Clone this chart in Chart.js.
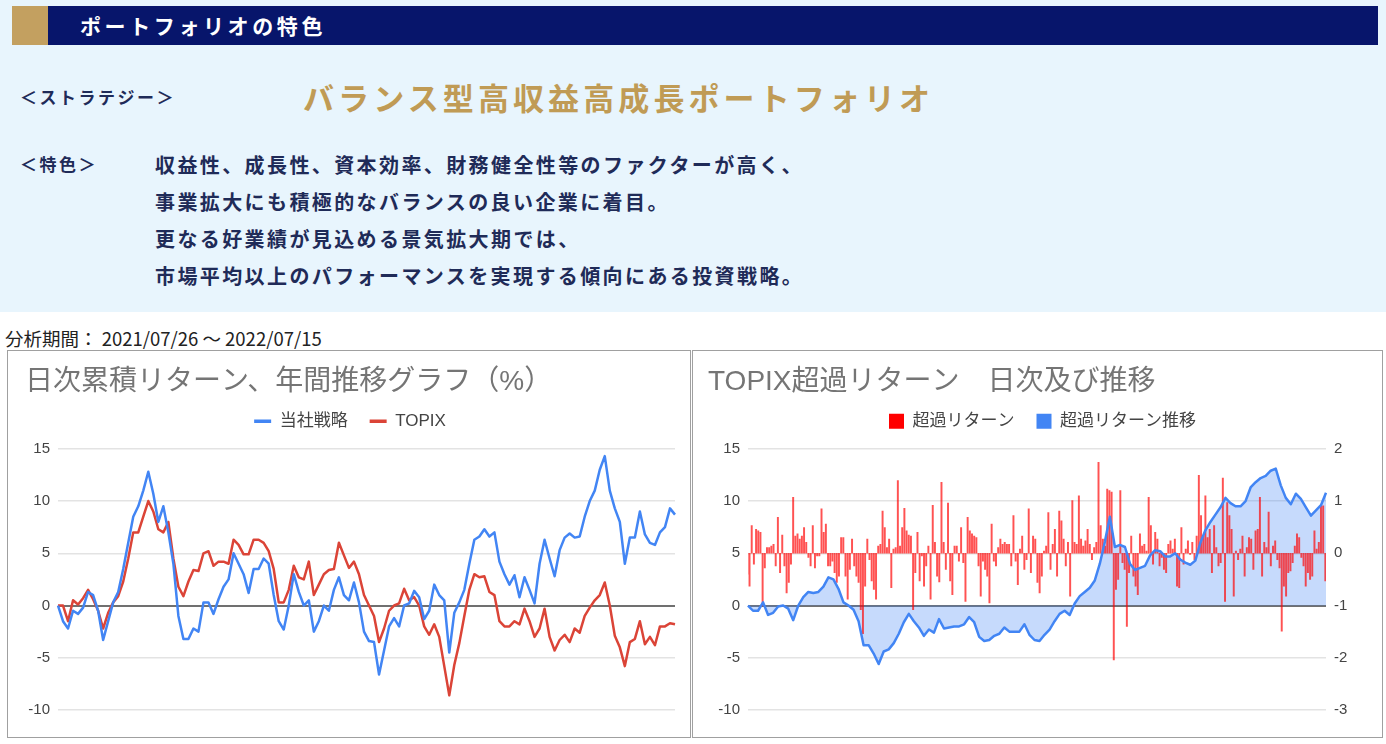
<!DOCTYPE html>
<html lang="ja">
<head>
<meta charset="utf-8">
<title>ポートフォリオの特色</title>
<script src="https://cdn.jsdelivr.net/npm/chart.js@4.4.1/dist/chart.umd.min.js"></script>
<style>
html,body{margin:0;padding:0;background:#fff}
body{width:1386px;height:744px;position:relative;overflow:hidden;font-family:"Noto Sans CJK JP","Noto Sans",sans-serif}
.abs{position:absolute;white-space:nowrap}
#panel{left:0;top:0;width:1386px;height:312px;background:#e8f5fd}
#hdr{left:12px;top:6px;width:1366px;height:39px;background:#07156b}
#gold{left:0;top:0;width:36px;height:39px;background:#c3a060}
#hdrtxt{left:68px;top:0;line-height:39px;font-size:21px;font-weight:700;color:#fff;letter-spacing:3.6px}
.lbl{color:#1f2b58;font-weight:700;font-size:17px;letter-spacing:2.5px;line-height:30px}
#strat{left:20px;top:82px}
#name{left:303px;top:77px;line-height:40px;font-size:31px;font-weight:700;color:#c09b55;letter-spacing:4.1px}
#feat{left:20px;top:149px}
#body{left:155px;top:145.5px;line-height:37px;font-size:20px;font-weight:700;color:#1f2b58;letter-spacing:2.4px}
#period{left:5px;top:326px;line-height:24px;font-size:18.5px;color:#222}
.box{position:absolute;top:350px;height:388px;box-sizing:border-box;border:1px solid #a0a0a0;background:#fff}
#box1{left:7px;width:684px}
#box2{left:692px;width:691px}
canvas{display:block}
</style>
</head>
<body>
<div id="panel" class="abs"></div>
<div id="hdr" class="abs"><div id="gold" class="abs"></div><div id="hdrtxt" class="abs">ポートフォリオの特色</div></div>
<div id="strat" class="abs lbl">＜ストラテジー＞</div>
<div id="name" class="abs">バランス型高収益高成長ポートフォリオ</div>
<div id="feat" class="abs lbl">＜特色＞</div>
<div id="body" class="abs">収益性、成長性、資本効率、財務健全性等のファクターが高く、<br>事業拡大にも積極的なバランスの良い企業に着目。<br>更なる好業績が見込める景気拡大期では、<br>市場平均以上のパフォーマンスを実現する傾向にある投資戦略。</div>
<div id="period" class="abs">分析期間： 2021/07/26 ～ 2022/07/15</div>
<div id="box1" class="box"><canvas id="c1" width="682" height="386"></canvas></div>
<div id="box2" class="box"><canvas id="c2" width="689" height="386"></canvas></div>
<script>
// ---- data ----
const seriesNames = ['当社戦略', 'TOPIX'];
const excessNames = ['超過リターン', '超過リターン推移'];
const chartTitles = ['日次累積リターン、年間推移グラフ（%）', 'TOPIX超過リターン　日次及び推移'];

// cumulative return (%), strategy
const strategy = [0, -1.5, -2.2, -0.5, -0.8, -0.2, 1.3, 1, -0.5, -3.3,
 -1.5, 0.3, 1.3, 3.5, 6, 8.5, 9.5, 11, 12.8, 10.7,
 8, 9.5, 7, 4, -1, -3.2, -3.2, -2.2, -2.5, 0.3,
 0.3, -0.8, 0.6, 1.8, 2.5, 5, 4, 3, 1.2, 3.5,
 3.5, 4.5, 4, 1, -1.5, -2.3, 0, 3, 1.3, 0,
 0.5, -2.5, -1.5, 0, -0.5, 1.5, 2.7, 1, 0.5, 2.2,
 0.3, -2.5, -3.4, -3.5, -6.6, -4.3, -2, -1.2, -2, 0,
 0.2, 1.4, 0.8, -1.3, -0.5, 2, 1, 0.5, -4.5, -0.7,
 0.3, 1.5, 4, 6.3, 6.6, 7.3, 6.6, 7, 4.2, 3,
 2, 2.9, 0.8, 2.7, 1.5, 0.2, 4, 6.3, 4.5, 2.8,
 5.3, 6.5, 6.9, 6.5, 6.6, 8.5, 10, 11, 13, 14.3,
 11, 9.3, 8, 4, 6.5, 6.5, 9, 6.8, 6, 5.8,
 7, 7.5, 9.3, 8.7];

// cumulative return (%), TOPIX
const topix = [0, 0, -1.5, 0.5, 0.1, 0.7, 1.5, 0.6, -0.5, -2.2,
 -0.7, 0.3, 0.9, 2.3, 4.5, 7, 7, 8.5, 10, 9,
 7.3, 7, 8, 4.5, 1.8, 0.9, 2.3, 3.4, 3.3, 5,
 5.2, 3.8, 4.2, 4.2, 4, 6.3, 5.8, 4.9, 4.9, 6.3,
 6.3, 6, 5.2, 3.5, 0.3, 0.3, 1.5, 3.8, 2.7, 2.5,
 4.2, 1, 2, 3, 3.4, 3.5, 6, 4.8, 3.6, 4.2,
 3, 1, 0, -1, -3.5, -2.2, -0.5, 0, 0.2, 1.6,
 0.5, 0.8, 0, -2, -2.8, -1.8, -3, -5.8, -8.6, -5.7,
 -3.6, -1, 1.5, 3, 2.7, 2.8, 1.3, 1, -1.5, -2,
 -2, -1.5, -1.8, -0.3, -1.5, -3, -2.2, -0.3, -3, -4.3,
 -3.3, -2.8, -3.5, -2.2, -2.6, -1, -0.2, 0.5, 1, 2.2,
 0, -2.9, -4, -5.8, -3.5, -3.2, -1.5, -3.7, -3, -3.8,
 -2, -2, -1.7, -1.8];

// cumulative excess return vs TOPIX (%), left axis
const excessCum = [0, -0.5, -0.5, 0.3, -0.9, -0.7, -0.1, 0, -0.3, -1.4,
 0, 0.8, 1.3, 1.2, 1.3, 1.8, 2.7, 2.5, 1.6, 0.3,
 0, -0.4, -1.5, -3.8, -3.8, -4.6, -5.6, -4.4, -4.2, -3.6,
 -2.7, -1.6, -0.8, -1.5, -2.1, -2.9, -2.3, -2.6, -1.3, -2.2,
 -2.1, -2, -2, -1.8, -1.1, -1.6, -3, -3.4, -3.3, -2.9,
 -2.7, -2.1, -2.5, -2.5, -2.5, -1.8, -2.8, -3.3, -3.4, -2.8,
 -2.3, -1.5, -0.8, -0.5, -0.9, 0.2, 0.9, 1.3, 1.7, 2.4,
 4, 6.1, 8.5, 5.6, 5.8, 5.6, 4, 3.4, 3.6, 3.8,
 4.8, 5.3, 5.2, 4.7, 4.7, 5, 4.4, 4.1, 3.9, 4.3,
 6, 7.2, 8, 8.7, 9.4, 10.3, 9.8, 9.5, 9.5, 10,
 11.3, 11.8, 12.2, 12.4, 12.9, 13.1, 11.5, 10.3, 9.7, 10.7,
 10.2, 9.4, 8.6, 9.1, 9.6, 10.8];

// daily excess return (%), right axis
const excessDaily = [-0.40, -0.63, 0.53, -0.21, 0.46, 0.43, 0.40, -1.01, -0.28, 0.11,
 0.11, 0.14, 0.17, -0.24, 0.69, -0.37, 0.35, -0.24, -0.76, -0.56,
 -0.21, 1.07, 0.33, 0.37, 0.27, 0.33, 0.49, 0.21, -0.08, -0.24,
 0.53, -0.28, -0.05, -0.05, 0.85, 0.40, 0.56, -0.24, -0.24, -0.15,
 -0.37, -0.56, -0.44, 0.30, 0.30, -0.44, -0.88, -0.31, 0.27, -0.24,
 -0.44, -0.56, -1.08, -1.54, -0.63, 0.27, -0.12, -0.53, -0.69, -0.88,
 0.14, 0.17, 0.81, 0.49, 0.11, 0.27, -0.66, 0.08, 0.11, 1.39,
 0.14, 0.49, 0.86, 0.43, 0.35, 0.33, -1.08, -0.37, 0.40, -0.53,
 -0.05, -0.63, -0.24, 0.14, -0.88, 0.92, 0.21, -0.44, -0.55, 1.36,
 0.21, -0.31, 0.96, -0.53, -0.79, 0.14, 0.14, -0.15, 0.49, -0.18,
 -0.92, 0.69, 0.43, 0.37, 0.33, 0.30, -0.24, -0.82, -0.15, -0.31,
 -0.44, -0.95, 0.56, -0.15, -0.24, 0.11, 0.27, 0.17, 0.21, 0.17,
 0.17, -0.24, 0.72, -0.15, -0.60, 0.08, 0.33, -0.31, -0.12, 0.85,
 -0.37, 0.33, 0.27, -0.56, -0.76, -0.44, 0.04,
 0.14, 0.78, -0.31, 0.17, 0.46, -0.44, 0.81, 0.62, 0.27, -0.24,
 0.21, -0.82, 1.01, 0.21, 0.17, 1.10, 0.27, 0.14, 0.24, 0.46,
 0.17, -0.12, 0.11, 0.21, 1.74, 0.53, 0.27, 0.14, 1.23, 1.20,
 1.17, -2.04, -0.69, -0.50, 1.20, -0.18, -0.31, -1.40, -0.37, 0.33,
 -0.44, -0.63, -0.79, 0.37, 0.14, 0.17, 0.04, 1.07, 0.53, -0.21,
 0.40, 0.27, -0.24, -0.08, -0.31, -0.37, 0.17, 0.24, 0.08, 0.27, -0.63,
 -0.66, 0.49, -0.21, 0.08, 0.24, -0.02, 0.21, -0.12, 0.33, 1.49,
 0.72, 0.33, 1.10, 0.30, 0.46, -0.37, 0.53, 0.11, -0.24, -0.18,
 1.44, -0.92, 0.97, 0.72, 0.46, -0.82, 0.04, -0.12, 0.08, 0.33,
 -0.44, 0.11, 0.30, 0.27, -0.31, 0.43, 0.46, 1.07, -0.44, 0.21,
 0.11, 0.79, -0.24, 0.14, 0.24, -0.12, -0.28, -1.49, -0.63, -0.82,
 -0.37, -0.34, -0.18, 0.14, 0.37, 0.30, -0.08, -0.24, -0.63, -0.37,
 -0.50, -0.44, 0.43, 0.08, 0.21, 0.91, 0.91, -0.53];

const leftTicks = [-10, -5, 0, 5, 10, 15];
const rightTicks = [-3, -2, -1, 0, 1, 2];

// category labels (trading-day index)
const dayLabels = strategy.map((_, i) => String(i + 1));
const cumLabels = excessCum.map((_, i) => String(i + 1));
const dailyLabels = excessDaily.map((_, i) => String(i + 1));

// ---- styling ----
const BLUE = '#4285f4', RED = '#db4437', BAR_RED = '#ff0000';
const TXT = '#444';
Chart.defaults.font.family = 'Arial, "Liberation Sans", "Noto Sans CJK JP", sans-serif';
Chart.defaults.color = TXT;

function gridColor(ctx) { return ctx.tick && ctx.tick.value === 0 ? '#707070' : '#e3e3e3'; }
function gridWidth(ctx) { return ctx.tick && ctx.tick.value === 0 ? 2 : 1.5; }

function yScale(ticks, pos, width, showGrid) {
  return {
    position: pos,
    min: ticks[0], max: ticks[ticks.length - 1],
    afterBuildTicks: axis => { axis.ticks = ticks.map(v => ({ value: v })); },
    afterFit: axis => { axis.width = width; },
    ticks: { color: TXT, font: { size: 15 }, padding: 8 },
    grid: { display: showGrid, color: gridColor, lineWidth: gridWidth, drawTicks: false },
    border: { display: false }
  };
}

function commonPlugins(title) {
  return {
    title: {
      display: true, text: title, align: 'start', color: '#757575',
      font: { size: 28, weight: 'normal', lineHeight: 0.6 },
      padding: { top: 23, bottom: 0 }
    },
    subtitle: {
      display: true, text: '', weight: 500,
      font: { size: 1, lineHeight: 1 }, padding: { top: 8, bottom: 0 }
    },
    tooltip: { enabled: false }
  };
}

// ---- left chart ----
const p1 = commonPlugins(chartTitles[0]);
p1.legend = {
  display: true, position: 'top', align: 'center',
  labels: {
    usePointStyle: true, pointStyle: 'line', pointStyleWidth: 17,
    color: TXT, font: { size: 17 }, padding: 22,
    generateLabels: chart => Chart.defaults.plugins.legend.labels.generateLabels(chart).map(it => { it.lineWidth = 3.5; return it; })
  }
};
new Chart(document.getElementById('c1'), {
  type: 'line',
  data: {
    labels: dayLabels,
    datasets: [
      { label: seriesNames[0], data: strategy, borderColor: BLUE, backgroundColor: BLUE, borderWidth: 2.5, pointRadius: 0, tension: 0, borderJoinStyle: 'round' },
      { label: seriesNames[1], data: topix, borderColor: RED, backgroundColor: RED, borderWidth: 2.5, pointRadius: 0, tension: 0, borderJoinStyle: 'round' }
    ]
  },
  options: {
    responsive: false, animation: false, devicePixelRatio: 1,
    layout: { padding: { left: 17, right: 15, top: 0, bottom: 27 } },
    plugins: p1,
    scales: {
      x: { display: false, offset: false },
      y: yScale(leftTicks, 'left', 33, true)
    }
  }
});

// ---- right chart ----
const legendColors = [BAR_RED, BLUE];
const p2 = commonPlugins(chartTitles[1]);
p2.legend = {
  display: true, position: 'top', align: 'center',
  labels: {
    boxWidth: 15, boxHeight: 15, color: TXT, font: { size: 17 }, padding: 22,
    generateLabels: chart => Chart.defaults.plugins.legend.labels.generateLabels(chart)
      .sort((a, b) => a.datasetIndex - b.datasetIndex)
      .map(it => { it.fillStyle = legendColors[it.datasetIndex]; it.strokeStyle = legendColors[it.datasetIndex]; it.lineWidth = 0; return it; })
  }
};
p2.filler = { drawTime: 'beforeDatasetsDraw' };
new Chart(document.getElementById('c2'), {
  type: 'bar',
  data: {
    datasets: [
      { type: 'bar', label: excessNames[0], data: excessDaily, xAxisID: 'xb', yAxisID: 'y1',
        backgroundColor: 'rgba(255,0,0,0.68)', barThickness: 1.3, order: 1 },
      { type: 'line', label: excessNames[1], data: excessCum, xAxisID: 'xl', yAxisID: 'y',
        borderColor: BLUE, backgroundColor: 'rgba(66,133,244,0.3)', fill: 'origin',
        borderWidth: 2.5, pointRadius: 0, tension: 0, borderJoinStyle: 'round', order: 0 }
    ]
  },
  options: {
    responsive: false, animation: false, devicePixelRatio: 1,
    layout: { padding: { left: 15, right: 5, top: 0, bottom: 27 } },
    plugins: p2,
    scales: {
      xb: { type: 'category', labels: dailyLabels, display: false, offset: false },
      xl: { type: 'category', labels: cumLabels, display: false, offset: false },
      y: yScale(leftTicks, 'left', 40, true),
      y1: yScale(rightTicks, 'right', 51, false)
    }
  }
});
</script>
</body>
</html>
